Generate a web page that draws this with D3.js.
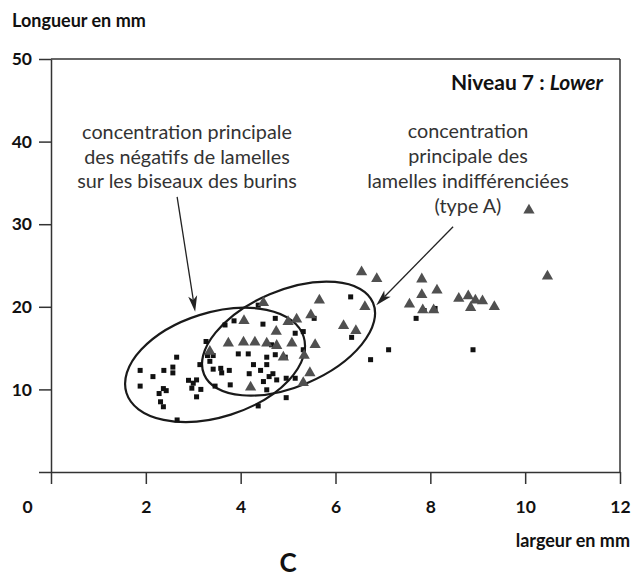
<!DOCTYPE html>
<html><head><meta charset="utf-8">
<script src="https://cdn.jsdelivr.net/npm/d3@7"></script>
<style>
html,body{margin:0;padding:0;background:#fff;}
svg{display:block;}
</style></head>
<body>
<svg id="chart" width="631" height="577"></svg>
<script>
// ---- data ----
const xTicks = [0, 2, 4, 6, 8, 10, 12];
const yTicks = [0, 10, 20, 30, 40, 50];

// burin negatives (squares)
const burinX = [1.88,1.88,2.15,2.38,2.57,2.57,2.65,2.37,2.43,2.28,2.31,2.37,2.66,2.90,3.00,3.07,3.16,2.97,3.07,3.27,3.14,3.35,3.42,3.58,3.60,3.76,3.78,3.46,3.30,3.42,3.67,3.86,4.37,4.47,4.73,3.95,4.16,4.27,4.18,4.42,4.55,4.55,4.60,4.48,4.55,4.37,4.73,4.76,6.32,5.55,5.32,5.15,6.34,7.12,6.74,5.32,4.68,4.96,5.15,4.96,4.94,4.65,7.87,8.10,7.70,8.90];
const burinY = [12.3,10.4,11.55,12.3,12.7,12.0,13.9,10.1,9.85,9.5,8.5,7.9,6.3,11.1,10.75,11.15,10.0,10.15,9.1,15.8,13.0,13.4,12.45,12.55,12.0,12.3,10.55,10.4,14.1,14.1,17.8,18.3,20.2,17.9,18.6,14.3,14.3,13.0,11.9,12.3,13.9,13.0,11.55,10.95,9.95,8.0,14.2,11.15,21.2,18.6,17.0,16.8,16.3,14.8,13.6,14.8,11.9,11.35,11.35,9.0,13.9,15.4,19.55,19.8,18.6,14.8];

// undifferentiated bladelets type A (triangles)
const lamX = [4.48,4.07,3.74,4.06,4.30,4.55,4.75,3.35,4.21,6.55,6.87,5.66,6.62,7.56,5.48,5.00,5.18,6.17,6.43,5.08,5.57,4.76,4.90,5.34,5.46,5.32,7.82,8.14,7.82,7.84,8.07,10.08,10.47,8.60,8.80,8.95,9.10,8.85,9.35];
const lamY = [20.5,18.3,15.6,15.7,15.7,15.6,17.0,14.6,10.25,24.2,23.4,20.8,20.0,20.3,19.0,18.2,18.5,17.7,17.1,15.6,15.4,15.3,13.9,14.1,12.0,10.8,23.35,22.0,21.45,19.6,19.6,31.7,23.7,21.0,21.3,20.8,20.7,19.9,20.0];

const burins = burinX.map((d, i) => ({x: d, y: burinY[i]}));
const lamelles = lamX.map((d, i) => ({x: d, y: lamY[i]}));

// annotation ellipses (centre in data units, semi-axes in x-units, tilt in degrees)
const ellipses = [
  {cx: 3.46, cy: 12.97, a: 1.96, b: 1.10, angle: 17.6},
  {cx: 5.01, cy: 16.15, a: 1.935, b: 1.015, angle: 23}
];
// annotation arrows (data units)
const arrows = [
  {x1: 2.66, y1: 33.3, x2: 3.04, y2: 19.4},
  {x1: 8.48, y1: 29.7, x2: 6.86, y2: 20.2}
];

// ---- drawing ----
const svg = d3.select("#chart");
const x = d3.scaleLinear().domain([0, 12]).range([51, 620]);
const y = d3.scaleLinear().domain([0, 50]).range([472, 59]);
const axisColor = "#333";
const labelFont = "Lato, 'Open Sans', sans-serif";

// frame top and right
svg.append("line").attr("x1", x(0)).attr("x2", x(12)).attr("y1", y(50)).attr("y2", y(50))
  .attr("stroke", axisColor).attr("stroke-width", 1.5);
svg.append("line").attr("x1", x(12)).attr("x2", x(12)).attr("y1", y(50)).attr("y2", y(0))
  .attr("stroke", axisColor).attr("stroke-width", 1.5);

// left axis
const gy = svg.append("g").attr("transform", `translate(${x(0)},0)`)
  .call(d3.axisLeft(y).tickValues(yTicks).tickSize(12).tickSizeOuter(0).tickPadding(7)
    .tickFormat(d => d === 0 ? "" : d));
// bottom axis
const gx = svg.append("g").attr("transform", `translate(0,${y(0)})`)
  .call(d3.axisBottom(x).tickValues(xTicks).tickSize(12).tickSizeOuter(0));

[gx, gy].forEach(g => {
  g.selectAll("path.domain").attr("stroke", axisColor).attr("stroke-width", 1.5);
  g.selectAll(".tick line").attr("stroke", axisColor).attr("stroke-width", 1.5);
  g.selectAll("text").attr("fill", "#111").attr("font-family", labelFont)
    .attr("font-weight", "bold").attr("font-size", 17.5);
});
gx.selectAll(".tick text").attr("y", 41).attr("dy", 0);
gx.selectAll(".tick").filter(d => d === 0).select("text").attr("x", 27 - x(0));

// axis titles
svg.append("text").attr("x", 12).attr("y", 27).text("Longueur en mm")
  .attr("font-family", labelFont).attr("font-weight", "bold").attr("font-size", 18).attr("fill", "#111");
svg.append("text").attr("x", 630).attr("y", 547).attr("text-anchor", "end").text("largeur en mm")
  .attr("font-family", labelFont).attr("font-weight", "bold").attr("font-size", 18).attr("fill", "#111");
svg.append("text").attr("x", 288).attr("y", 572).attr("text-anchor", "middle").text("C")
  .attr("font-family", labelFont).attr("font-weight", "bold").attr("font-size", 26).attr("fill", "#111");

// level title
const tt = svg.append("text").attr("x", 603).attr("y", 90).attr("text-anchor", "end")
  .attr("font-family", labelFont).attr("font-weight", "bold").attr("font-size", 21).attr("fill", "#111");
tt.append("tspan").text("Niveau 7 : ");
tt.append("tspan").attr("font-style", "italic").text("Lower");

// annotation texts
const annFont = "Lato, 'Open Sans', sans-serif";
const leftLines = ["concentration principale", "des négatifs de lamelles", "sur les biseaux des burins"];
const rightLines = ["concentration", "principale des", "lamelles indifférenciées", "(type A)"];
svg.append("g").selectAll("text").data(leftLines).join("text")
  .attr("x", 187).attr("y", (d, i) => 139 + i * 24.6).attr("text-anchor", "middle")
  .attr("font-family", annFont).attr("font-size", 19.8).attr("fill", "#333").text(d => d);
svg.append("g").selectAll("text").data(rightLines).join("text")
  .attr("x", 468).attr("y", (d, i) => 137.7 + i * 25.2).attr("text-anchor", "middle")
  .attr("font-family", annFont).attr("font-size", 19.8).attr("fill", "#333").text(d => d);

// ellipses
const pxPerX = x(1) - x(0);
svg.append("g").selectAll("ellipse").data(ellipses).join("ellipse")
  .attr("cx", 0).attr("cy", 0)
  .attr("rx", d => d.a * pxPerX).attr("ry", d => d.b * pxPerX)
  .attr("transform", d => `translate(${x(d.cx)},${y(d.cy)}) rotate(${-d.angle})`)
  .attr("fill", "none").attr("stroke", "#1a1a1a").attr("stroke-width", 2.2);

// points: squares
svg.append("g").selectAll("rect").data(burins).join("rect")
  .attr("x", d => x(d.x) - 2.5).attr("y", d => y(d.y) - 2.5)
  .attr("width", 5).attr("height", 5).attr("fill", "#111");
// triangles
const tri = d3.symbol().type(d3.symbolTriangle).size(55);
svg.append("g").selectAll("path").data(lamelles).join("path")
  .attr("d", tri).attr("transform", d => `translate(${x(d.x)},${y(d.y)})`)
  .attr("fill", "#505050");

// arrows
arrows.forEach(a => {
  const x1 = x(a.x1), y1 = y(a.y1), x2 = x(a.x2), y2 = y(a.y2);
  const ang = Math.atan2(y2 - y1, x2 - x1);
  const L = 16, W = 4.5;
  const bx = x2 - L * Math.cos(ang), by = y2 - L * Math.sin(ang);
  const nx = -Math.sin(ang), ny = Math.cos(ang);
  const mx = x2 - (L * 0.75) * Math.cos(ang), my = y2 - (L * 0.75) * Math.sin(ang);
  svg.append("line").attr("x1", x1).attr("y1", y1).attr("x2", mx).attr("y2", my)
    .attr("stroke", "#222").attr("stroke-width", 1.3);
  svg.append("path")
    .attr("d", `M${x2},${y2}L${bx + nx * W},${by + ny * W}L${mx},${my}L${bx - nx * W},${by - ny * W}Z`)
    .attr("fill", "#222");
});
</script>
</body></html>
